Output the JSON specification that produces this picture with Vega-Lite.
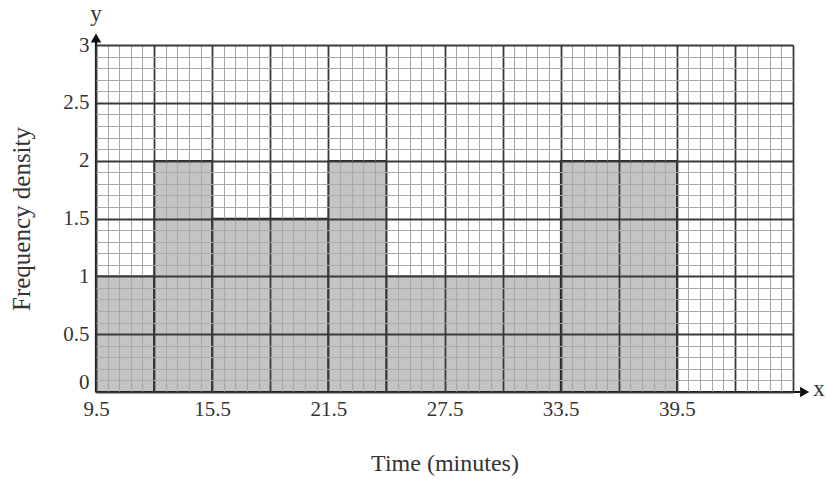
{
  "$schema": "https://vega.github.io/schema/vega-lite/v6.json",
  "width": 697,
  "height": 347,
  "autosize": "none",
  "padding": {"left": 96, "top": 45, "right": 33, "bottom": 89},
  "background": "white",
  "config": {"view": {"stroke": null}, "font": "Liberation Serif"},
  "layer": [
    {
      "data": {
        "values": [
          {"start": 9.5, "end": 12.5, "density": 1},
          {"start": 12.5, "end": 15.5, "density": 2},
          {"start": 15.5, "end": 21.5, "density": 1.5},
          {"start": 21.5, "end": 24.5, "density": 2},
          {"start": 24.5, "end": 33.5, "density": 1},
          {"start": 33.5, "end": 39.5, "density": 2}
        ]
      },
      "mark": {"type": "rect", "fill": "#c4c4c4", "stroke": "#222", "strokeWidth": 1.5},
      "encoding": {
        "x": {
          "field": "start",
          "type": "quantitative",
          "scale": {"domain": [9.5, 45.5], "nice": false, "zero": false},
          "axis": {
            "values": [9.5,10.1,10.7,11.3,11.9,12.5,13.1,13.7,14.3,14.9,15.5,16.1,16.7,17.3,17.9,18.5,19.1,19.7,20.3,20.9,21.5,22.1,22.7,23.3,23.9,24.5,25.1,25.7,26.3,26.9,27.5,28.1,28.7,29.3,29.9,30.5,31.1,31.7,32.3,32.9,33.5,34.1,34.7,35.3,35.9,36.5,37.1,37.7,38.3,38.9,39.5,40.1,40.7,41.3,41.9,42.5,43.1,43.7,44.3,44.9,45.5],
            "tickCount": 500,
            "grid": true,
            "gridColor": {"condition": {"test": "abs((datum.value-9.5)/3 - round((datum.value-9.5)/3)) < 0.01", "value": "#3a3a3a"}, "value": "#a8a8a8"},
            "gridWidth": {"condition": {"test": "abs((datum.value-9.5)/3 - round((datum.value-9.5)/3)) < 0.01", "value": 1.8}, "value": 1.1},
            "ticks": false,
            "domain": false,
            "labelExpr": "abs((datum.value-9.5)/6 - round((datum.value-9.5)/6)) < 0.01 && datum.value < 45 ? format(datum.value, '.1f') : ''",
            "labelFont": "Liberation Serif",
            "labelFontSize": 21,
            "labelColor": "#333333",
            "labelPadding": 6,
            "labelOverlap": false,
            "labelFlush": false,
            "title": "Time (minutes)",
            "titleFont": "Liberation Serif",
            "titleFontSize": 24,
            "titleFontWeight": "normal",
            "titleColor": "#333333",
            "titlePadding": 32,
            "zindex": 1
          }
        },
        "x2": {"field": "end"},
        "y": {
          "field": "density",
          "type": "quantitative",
          "scale": {"domain": [0, 3], "nice": false},
          "axis": {
            "values": [0,0.1,0.2,0.3,0.4,0.5,0.6,0.7,0.8,0.9,1,1.1,1.2,1.3,1.4,1.5,1.6,1.7,1.8,1.9,2,2.1,2.2,2.3,2.4,2.5,2.6,2.7,2.8,2.9,3],
            "tickCount": 500,
            "grid": true,
            "gridColor": {"condition": {"test": "abs(datum.value*2 - round(datum.value*2)) < 0.01", "value": "#3a3a3a"}, "value": "#a8a8a8"},
            "gridWidth": {"condition": {"test": "abs(datum.value*2 - round(datum.value*2)) < 0.01", "value": 1.8}, "value": 1.1},
            "ticks": false,
            "domain": false,
            "labelExpr": "abs(datum.value*2 - round(datum.value*2)) < 0.01 ? format(datum.value, '~g') : ''",
            "labelBaseline": {"condition": {"test": "datum.value === 0", "value": "bottom"}, "value": "middle"},
            "labelFont": "Liberation Serif",
            "labelFontSize": 21,
            "labelColor": "#333333",
            "labelPadding": 7,
            "labelOverlap": false,
            "labelFlush": false,
            "title": "Frequency density",
            "titleFont": "Liberation Serif",
            "titleFontSize": 25,
            "titleFontWeight": "normal",
            "titleColor": "#333333",
            "titlePadding": 28,
            "zindex": 1
          }
        },
        "y2": {"datum": 0}
      }
    },
    {
      "data": {"values": [{}]},
      "mark": {"type": "rule", "color": "#111111", "strokeWidth": 2.2, "clip": false},
      "encoding": {"x": {"datum": 9.5}, "x2": {"datum": 46.0}, "y": {"datum": 0}}
    },
    {
      "data": {"values": [{}]},
      "mark": {"type": "rule", "color": "#111111", "strokeWidth": 2.2, "clip": false},
      "encoding": {"x": {"datum": 9.5}, "y": {"datum": 0}, "y2": {"datum": 3.04}}
    },
    {
      "data": {"values": [{}]},
      "mark": {"type": "point", "shape": "triangle-right", "filled": true, "color": "#111111", "size": 110, "opacity": 1, "clip": false},
      "encoding": {"x": {"datum": 46.1}, "y": {"datum": 0}}
    },
    {
      "data": {"values": [{}]},
      "mark": {"type": "point", "shape": "triangle-up", "filled": true, "color": "#111111", "size": 110, "opacity": 1, "clip": false},
      "encoding": {"x": {"datum": 9.5}, "y": {"datum": 3.06}}
    },
    {
      "data": {"values": [{}]},
      "mark": {"type": "text", "text": "x", "font": "Liberation Serif", "fontSize": 23, "color": "#333333", "baseline": "middle", "align": "left", "clip": false},
      "encoding": {"x": {"datum": 46.55}, "y": {"datum": 0.03}}
    },
    {
      "data": {"values": [{}]},
      "mark": {"type": "text", "text": "y", "font": "Liberation Serif", "fontSize": 23, "color": "#333333", "baseline": "middle", "align": "center", "clip": false},
      "encoding": {"x": {"datum": 9.5}, "y": {"datum": 3.27}}
    }
  ]
}
